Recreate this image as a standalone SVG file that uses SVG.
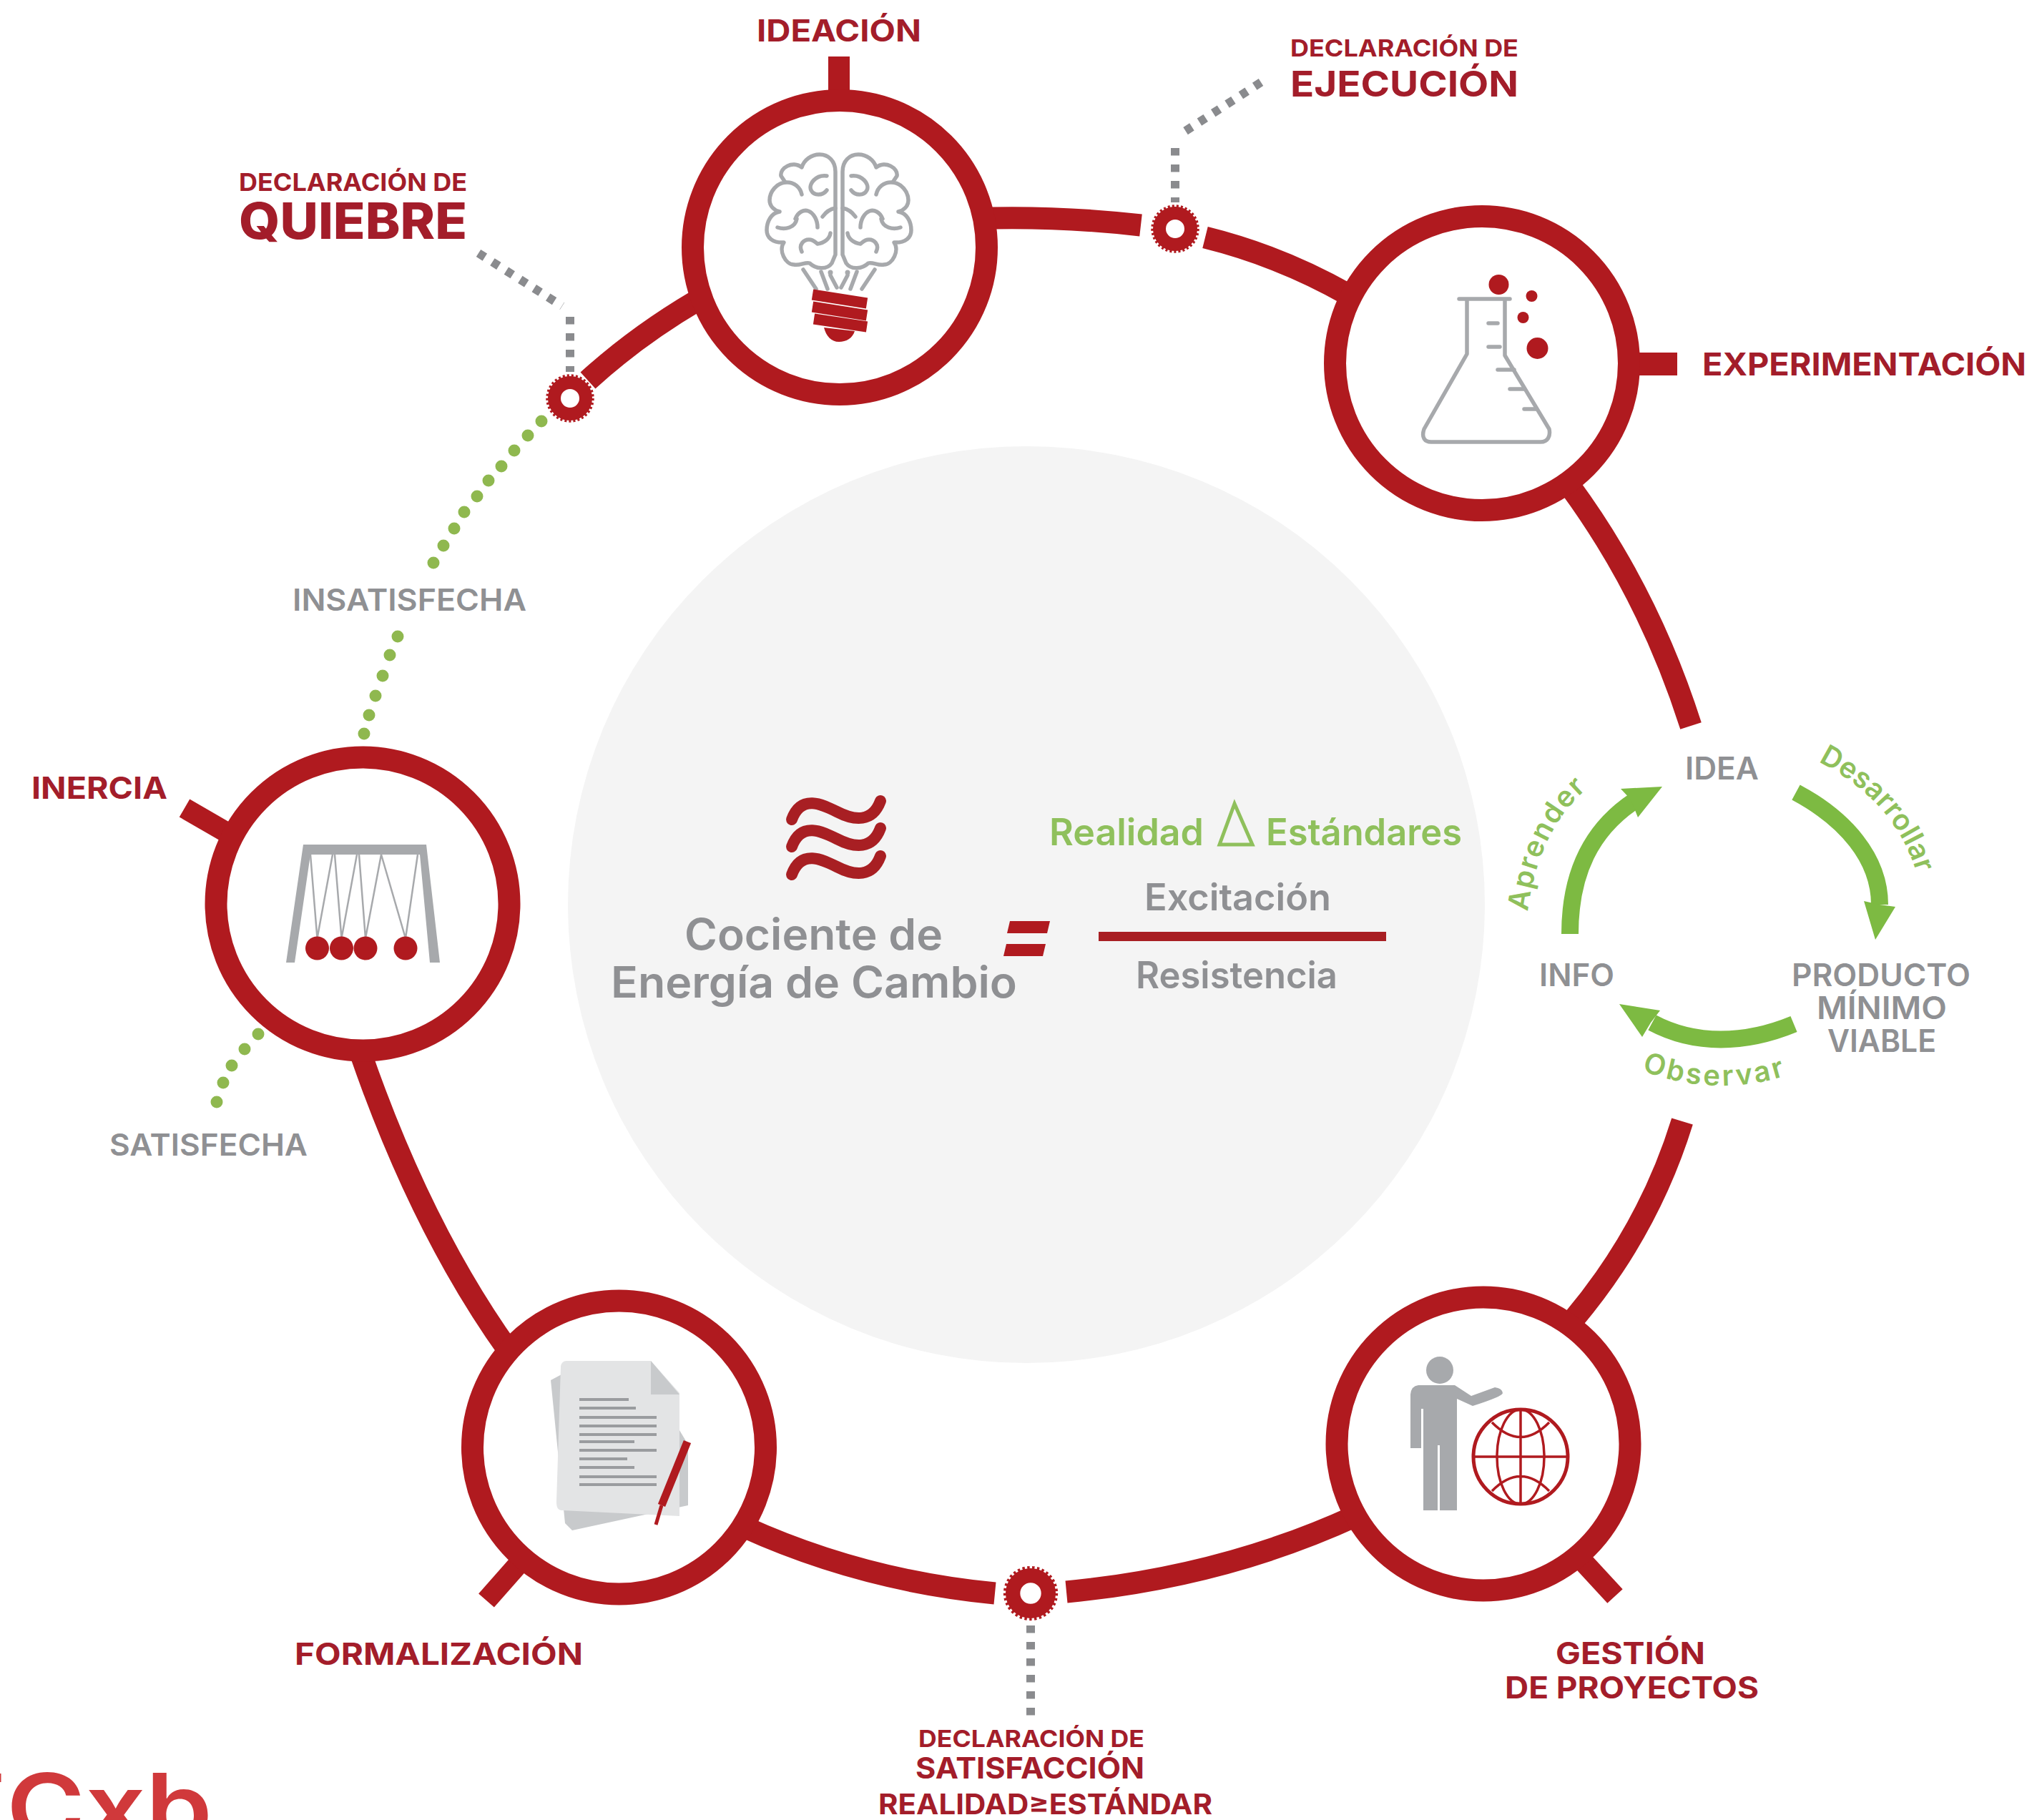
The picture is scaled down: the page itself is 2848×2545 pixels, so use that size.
<svg xmlns="http://www.w3.org/2000/svg" xmlns:xlink="http://www.w3.org/1999/xlink" width="2848" height="2545" viewBox="0 0 2848 2545">
<style>
text{font-family:"Inter","Liberation Sans",sans-serif}
.r{fill:#a31d2a;font-weight:700}
.g{fill:#8f9093;font-weight:600}
.v{fill:#8fc05c;font-weight:600}
.seg{fill:none;stroke:#b01a1f;stroke-width:31}
.ring{fill:#fff;stroke:#b01a1f;stroke-width:31}
.stub{stroke:#b01a1f;stroke-width:29;fill:none}
.dash{fill:none;stroke:#8a8b8e;stroke-width:12;stroke-dasharray:10.5 12.5}
.dot{fill:#8fb84f}
.arrow{fill:none;stroke:#7dba42;stroke-width:24}
.head{fill:#7dba42}
.icon{fill:none;stroke:#a7a9ac;stroke-width:5.5;stroke-linecap:round;stroke-linejoin:round}
.solid{fill:#a7a9ac}
.red{fill:#b01a1f}
.redl{fill:none;stroke:#b01a1f}
.wave{fill:none;stroke:#a81f23;stroke-width:16;stroke-linecap:round}
</style>
<defs>
<g id="gear"><circle r="22" fill="none" stroke="#b01a1f" stroke-width="18"/><circle r="31.5" fill="none" stroke="#b01a1f" stroke-width="4.5" stroke-dasharray="3 3"/></g>
<g id="brainHalf">
<path class="icon" d="M1168,356 L1168,240 C1168,225 1158,216 1146,216 C1134,216 1124,224 1121,234 C1108,224 1090,235 1092,246 L1098,255 C1086,256 1076,268 1076,280 C1076,288 1082,294 1090,296 C1078,298 1072,310 1072,322 C1072,332 1080,340 1096,339 C1088,350 1098,370 1110,370 C1118,372 1126,366 1132,368 C1140,376 1156,378 1163,368 L1168,356"/>
<path class="icon" d="M1156,246 C1140,244 1130,258 1134,266 C1138,274 1150,274 1156,266 M1099,255 C1110,254 1119,262 1121,272 M1112,306 C1116,296 1124,293 1130,295 C1138,298 1143,308 1143,318 M1150,303 C1155,296 1162,292 1168,291 M1087,318 C1098,322 1112,318 1114,306 M1121,352 C1116,342 1124,335 1131,335 C1138,335 1141,340 1143,341 C1152,340 1160,334 1161,326"/>
<path class="icon" d="M1123,377 L1141,404 M1148,380 L1157,404 M1161,385 L1170,402"/>
<circle class="solid" cx="1161" cy="381" r="3.5"/>
</g>
</defs>
<rect width="2848" height="2545" fill="#fff"/>
<circle id="center-disc" cx="1435" cy="1265" r="641" fill="#f4f4f4"/>

<g id="connectors">
<path class="seg" d="M1385,305 Q1490,303 1595,315"/>
<path class="seg" d="M1685,332 Q1790,358 1885,412"/>
<path class="seg" d="M2195,680 Q2305,830 2364,1015"/>
<path class="seg" d="M2352,1568 Q2305,1720 2200,1845"/>
<path class="seg" d="M1491,2226 Q1710,2205 1895,2120"/>
<path class="seg" d="M1391,2228 Q1205,2210 1040,2135"/>
<path class="seg" d="M712,1890 Q590,1720 505,1475"/>
<path class="seg" d="M822,532 Q890,470 975,420"/>
<path class="dash" d="M1441,2273 V2400"/>
<path class="dash" d="M669,354 L786,428"/>
<path class="dash" d="M797,443 V520"/>
<path class="dash" d="M1763,115 L1650,188"/>
<path class="dash" d="M1643,207 V283"/>
<g id="green-dots">
<circle class="dot" cx="757" cy="589" r="8.5"/><circle class="dot" cx="738" cy="609" r="8.5"/><circle class="dot" cx="719" cy="630" r="8.5"/><circle class="dot" cx="701" cy="652" r="8.5"/><circle class="dot" cx="683" cy="672" r="8.5"/><circle class="dot" cx="667" cy="694" r="8.5"/><circle class="dot" cx="649" cy="716" r="8.5"/><circle class="dot" cx="635" cy="739" r="8.5"/><circle class="dot" cx="620" cy="763" r="8.5"/><circle class="dot" cx="606" cy="787" r="8.5"/>
<circle class="dot" cx="556" cy="890" r="8.5"/><circle class="dot" cx="545" cy="916" r="8.5"/><circle class="dot" cx="535" cy="945" r="8.5"/><circle class="dot" cx="525" cy="973" r="8.5"/><circle class="dot" cx="516" cy="1000" r="8.5"/><circle class="dot" cx="509" cy="1026" r="8.5"/>
<circle class="dot" cx="361" cy="1446" r="8.5"/><circle class="dot" cx="342" cy="1467" r="8.5"/><circle class="dot" cx="324" cy="1490" r="8.5"/><circle class="dot" cx="312" cy="1514" r="8.5"/><circle class="dot" cx="303" cy="1541" r="8.5"/>
</g>
</g>

<g id="node-ideacion">
<rect class="red" x="1158" y="79" width="30" height="52"/>
<circle class="ring" cx="1174" cy="346" r="205.5"/>
<use href="#brainHalf"/>
<use href="#brainHalf" transform="matrix(-1 0 0 1 2346 0)"/>
<g class="redl" stroke-width="15"><path d="M1136,412 L1212,424 M1136,429 L1212,441 M1138,446 L1212,457"/></g>
<path class="red" d="M1152,458 L1195,463 C1192,473 1183,478 1173,478 C1162,478 1155,470 1152,458 Z"/>
<text class="r" x="1058" y="58" font-size="42" textLength="230" lengthAdjust="spacingAndGlyphs">IDEACIÓN</text>
</g>

<g id="node-experimentacion">
<rect class="red" x="2285" y="493" width="60" height="32"/>
<circle class="ring" cx="2072" cy="508" r="205.5"/>
<path class="icon" d="M2040,418 H2111 M2051,418 V495 L1991,600 C1987,612 1992,618 2001,618 H2154 C2164,618 2168,610 2166,600 L2104,497 V418"/>
<path class="icon" d="M2081,452 H2094 M2081,485 H2097 M2094,517 H2117 M2111,544 H2131 M2131,572 H2148"/>
<circle class="red" cx="2095.5" cy="398" r="14"/><circle class="red" cx="2141.5" cy="414" r="8"/><circle class="red" cx="2129.5" cy="444" r="8"/><circle class="red" cx="2149.5" cy="487" r="15"/>
<text class="r" x="2380" y="525" font-size="44" textLength="453" lengthAdjust="spacingAndGlyphs">EXPERIMENTACIÓN</text>
</g>

<g id="node-inercia">
<path class="stub" d="M258,1130 L315,1163"/>
<circle class="ring" cx="507" cy="1264" r="205"/>
<path class="solid" d="M424,1181 H596 L615,1346 H601 L587,1195 H434 L412,1346 H400 Z"/>
<path fill="none" stroke="#a7a9ac" stroke-width="2.5" d="M434,1195 L443.5,1312 L465,1195 M468,1195 L477.5,1312 L499,1195 M502,1195 L511,1312 L533,1195 L567,1312 L584,1195"/>
<circle class="red" cx="443.5" cy="1326" r="16.5"/><circle class="red" cx="477.5" cy="1326" r="16.5"/><circle class="red" cx="511" cy="1326" r="16.5"/><circle class="red" cx="567" cy="1326" r="16.5"/>
<text class="r" x="44" y="1117" font-size="43" textLength="190" lengthAdjust="spacingAndGlyphs">INERCIA</text>
</g>

<g id="node-formalizacion">
<path class="stub" d="M680,2238 L725,2187"/>
<circle class="ring" cx="865.5" cy="2024" r="205"/>
<path fill="#c8cacc" d="M770,1930 L785,1922 L950,2000 L962,2020 V2105 L800,2140 L790,2130 Z"/>
<path fill="#e3e4e5" d="M792,1903 H910 L950,1948 V2120 L786,2112 C780,2112 778,2108 778,2100 L784,1912 C784,1906 788,1903 792,1903 Z"/>
<path fill="#c8cacc" d="M910,1903 L950,1950 H910 Z"/>
<g fill="none" stroke="#9a9c9f" stroke-width="4"><path d="M810,1957 H879 M810,1969 H889 M810,1982 H918 M810,1994 H918 M810,2006 H918 M810,2016 H887 M810,2028 H918 M810,2040 H877 M810,2052 H887 M810,2065 H918 M810,2076 H918"/></g>
<path class="redl" stroke-width="11" d="M961,2016 L925,2105"/>
<path class="redl" stroke-width="5" d="M925,2105 L917,2132"/>
<text class="r" x="412" y="2328" font-size="42" textLength="403" lengthAdjust="spacingAndGlyphs">FORMALIZACIÓN</text>
</g>

<g id="node-gestion">
<path class="stub" d="M2258,2232 L2210,2180"/>
<circle class="ring" cx="2074" cy="2019" r="205"/>
<circle class="solid" cx="2013" cy="1916" r="19"/>
<path class="solid" d="M1972,1950 Q1973,1938 1983,1937 H2034 L2057,1952 L2090,1940 Q2100,1941 2101,1948 Q2100,1953 2059,1966 L2037,1956 V2112 H2013 V2021 H2010 V2112 H1990 V1970 H1987 V2025 H1972 Z"/>
<g class="redl" stroke-width="3.5"><circle cx="2126" cy="2037" r="66" stroke-width="5"/><ellipse cx="2126" cy="2037" rx="33" ry="66"/><path d="M2126,1971 V2103 M2060,2037 H2192 M2086,1989 Q2126,2030 2166,1989 M2086,2085 Q2126,2044 2166,2085"/></g>
<text class="r" x="2175" y="2327" font-size="42" textLength="209" lengthAdjust="spacingAndGlyphs">GESTIÓN</text>
<text class="r" x="2104" y="2375" font-size="42" textLength="355" lengthAdjust="spacingAndGlyphs">DE PROYECTOS</text>
</g>

<g id="gear-quiebre">
<use href="#gear" x="797" y="557"/>
<text class="r" x="334" y="267" font-size="34" textLength="319" lengthAdjust="spacingAndGlyphs">DECLARACIÓN DE</text>
<text class="r" x="334" y="334" font-size="70" font-weight="800" style="font-weight:800" textLength="319" lengthAdjust="spacingAndGlyphs">QUIEBRE</text>
</g>
<g id="gear-ejecucion">
<use href="#gear" x="1643" y="320"/>
<text class="r" x="1804" y="79" font-size="33" textLength="319" lengthAdjust="spacingAndGlyphs">DECLARACIÓN DE</text>
<text class="r" x="1804" y="135" font-size="50" textLength="319" lengthAdjust="spacingAndGlyphs">EJECUCIÓN</text>
</g>
<g id="gear-satisfaccion">
<use href="#gear" transform="translate(1441,2228) scale(1.13)"/>
<text class="r" x="1284" y="2443" font-size="33" textLength="316" lengthAdjust="spacingAndGlyphs">DECLARACIÓN DE</text>
<text class="r" x="1280" y="2487" font-size="41" textLength="320" lengthAdjust="spacingAndGlyphs">SATISFACCIÓN</text>
<text class="r" x="1228" y="2537" font-size="39" textLength="467" lengthAdjust="spacingAndGlyphs">REALIDAD≥ESTÁNDAR</text>
</g>

<g id="labels-state">
<text class="g" x="409" y="854" font-size="42" textLength="327" lengthAdjust="spacingAndGlyphs">INSATISFECHA</text>
<text class="g" x="153" y="1616" font-size="42" textLength="277" lengthAdjust="spacingAndGlyphs">SATISFECHA</text>
</g>

<g id="formula">
<g class="wave"><path d="M1107,1146 C1120,1110 1150,1125 1170,1135 C1195,1148 1220,1150 1231,1120"/><path d="M1107,1184 C1120,1148 1150,1163 1170,1173 C1195,1186 1220,1188 1231,1158"/><path d="M1107,1223 C1120,1187 1150,1202 1170,1212 C1195,1225 1220,1227 1231,1197"/></g>
<text class="g" x="957" y="1328" font-size="60" textLength="361" lengthAdjust="spacingAndGlyphs">Cociente de</text>
<text class="g" x="854" y="1395" font-size="60" textLength="568" lengthAdjust="spacingAndGlyphs">Energía de Cambio</text>
<path fill="#b01a1f" d="M1412,1288 H1468 L1464,1305 H1408 Z M1407,1320 H1462 L1458,1337 H1403 Z"/>
<text class="v" x="1467" y="1182" font-size="52" textLength="216" lengthAdjust="spacingAndGlyphs">Realidad</text>
<path fill="none" stroke="#8fc05c" stroke-width="5" d="M1705,1181 L1726,1124 L1751,1181 Z"/>
<text class="v" x="1770" y="1182" font-size="52" textLength="274" lengthAdjust="spacingAndGlyphs">Estándares</text>
<text class="g" x="1600" y="1273" font-size="52" textLength="261" lengthAdjust="spacingAndGlyphs">Excitación</text>
<rect x="1536" y="1303" width="402" height="13" fill="#a81f23"/>
<text class="g" x="1588" y="1382" font-size="52" textLength="282" lengthAdjust="spacingAndGlyphs">Resistencia</text>
</g>

<g id="lean-cycle">
<path class="arrow" d="M2195,1306 C2195,1220 2225,1160 2285,1120"/>
<path class="head" d="M2324,1100 L2266,1103 L2280,1118 L2290,1143 Z"/>
<path class="arrow" d="M2511,1108 C2580,1145 2628,1200 2628,1265"/>
<path class="head" d="M2622,1314 L2606,1260 L2628,1265 L2650,1268 Z"/>
<path class="arrow" d="M2508,1432 C2440,1460 2370,1462 2310,1430"/>
<path class="head" d="M2264,1404 L2321,1413 L2308,1430 L2296,1450 Z"/>
<path id="tp-a" fill="none" d="M2136,1275 Q2150,1165 2216,1105 L2240,1085"/>
<path id="tp-d" fill="none" d="M2542,1065 Q2650,1120 2680,1222 L2690,1250"/>
<path id="tp-o" fill="none" d="M2295,1497 Q2395,1535 2494,1505 L2520,1495"/>
<text class="v" font-size="40" font-weight="500"><textPath href="#tp-a" textLength="195" lengthAdjust="spacing">Aprender</textPath></text>
<text class="v" font-size="40" font-weight="500"><textPath href="#tp-d" textLength="214" lengthAdjust="spacing">Desarrollar</textPath></text>
<text class="v" font-size="40" font-weight="500"><textPath href="#tp-o" textLength="205" lengthAdjust="spacing">Observar</textPath></text>
<text class="g" x="2356" y="1090" font-size="44" textLength="103" lengthAdjust="spacingAndGlyphs" font-weight="500">IDEA</text>
<text class="g" x="2152" y="1379" font-size="44" textLength="105" lengthAdjust="spacingAndGlyphs" font-weight="500">INFO</text>
<text class="g" x="2505" y="1379" font-size="44" textLength="250" lengthAdjust="spacingAndGlyphs" font-weight="500">PRODUCTO</text>
<text class="g" x="2540" y="1425" font-size="44" textLength="182" lengthAdjust="spacingAndGlyphs" font-weight="500">MÍNIMO</text>
<text class="g" x="2555" y="1471" font-size="44" textLength="152" lengthAdjust="spacingAndGlyphs" font-weight="500">VIABLE</text>
</g>

<text id="cxb" x="9" y="2574" font-size="130" font-weight="600" fill="#d0393b" textLength="288" lengthAdjust="spacingAndGlyphs">Cxb</text>
<rect x="0" y="2480" width="1.5" height="12" fill="#d0393b"/>
</svg>
